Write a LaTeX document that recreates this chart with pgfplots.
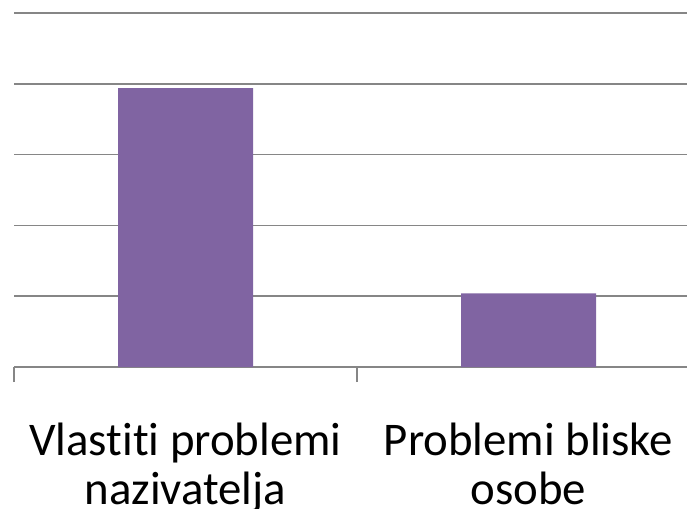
\documentclass[border=0pt]{standalone}
\usepackage{pgfplots}
\pgfplotsset{compat=1.18}
\usepackage{fontspec}
\setmainfont[Ligatures=NoCommon]{Carlito}
\definecolor{barpurple}{HTML}{8064A2}
\definecolor{gridgray}{HTML}{868686}
\begin{document}
\begin{tikzpicture}
\begin{axis}[
  scale only axis,
  width=686bp, height=354bp,
  xmin=-0.5, xmax=1.5,
  ymin=0, ymax=5,
  ybar, bar width=135bp,
  axis x line=bottom,
  axis y line=left,
  y axis line style={draw=none},
  ytick style={draw=none},
  x axis line style={gridgray, line width=1.5bp, -},
  xtick={0,1},
  xticklabels={{Vlastiti problemi\\nazivatelja},{Problemi bliske\\osobe}},
  xticklabel style={font=\fontsize{47}{50}\selectfont, align=center, yshift=-50bp},
  xtick style={draw=none},
  extra x ticks={-0.5,0.5,1.5},
  extra x tick labels={},
  extra x tick style={xtick style={draw=gridgray, line width=1.5bp}, major tick length=15bp, xtick align=outside, grid=none},
  ytick={1,2,3,4,5},
  yticklabels={},
  ymajorgrids,
  major grid style={gridgray, line width=1.5bp},
  clip=false,
]
\addplot[fill=barpurple, draw=none] coordinates {(0,3.94) (1,1.04)};
\coordinate (sw) at (rel axis cs:0,0);
\end{axis}
\pgfresetboundingbox
\path[use as bounding box] ([shift={(-14bp,-142bp)}]sw) rectangle ++(687bp,509bp);
\end{tikzpicture}
\end{document}
